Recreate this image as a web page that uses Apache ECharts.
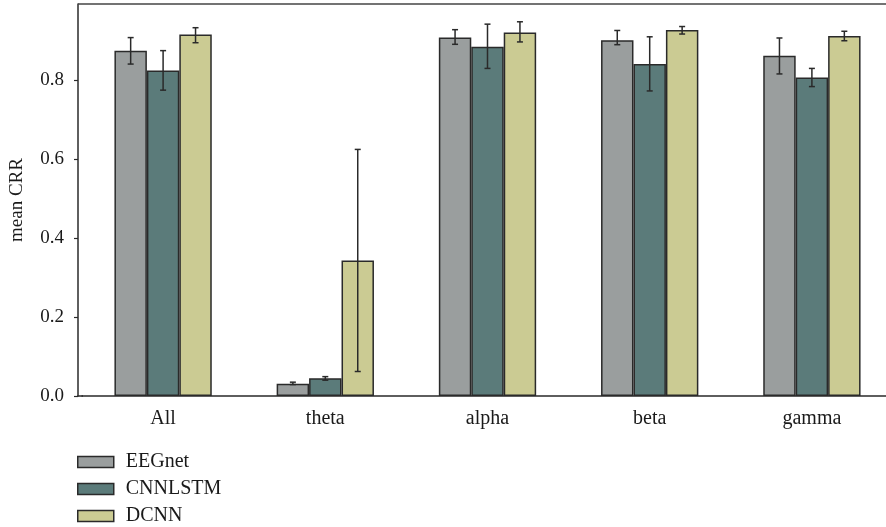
<!DOCTYPE html>
<html>
<head>
<meta charset="utf-8">
<script src="https://cdn.jsdelivr.net/npm/echarts@6/dist/echarts.min.js"></script>
<style>
  html, body { margin: 0; padding: 0; background: #fff; overflow: hidden; }
  /* the plot area continues a little past the right edge of the window */
  #chart { width: 893px; height: 527px; }
</style>
</head>
<body>
<div id="chart"></div>
<script>
// Frequency bands on the x axis
const categories = ['All', 'theta', 'alpha', 'beta', 'gamma'];
const seriesNames = ['EEGnet', 'CNNLSTM', 'DCNN'];

// Mean CRR per model and band
const eegnetMean  = [0.874, 0.031, 0.907, 0.900, 0.861];
const cnnlstmMean = [0.824, 0.045, 0.884, 0.840, 0.806];
const dcnnMean    = [0.915, 0.343, 0.920, 0.926, 0.911];

// Error bar extents (low, high) per model and band
const eegnetLow   = [0.840, 0.029, 0.890, 0.889, 0.815];
const eegnetHigh  = [0.907, 0.035, 0.927, 0.925, 0.906];
const cnnlstmLow  = [0.774, 0.040, 0.829, 0.772, 0.783];
const cnnlstmHigh = [0.874, 0.049, 0.941, 0.909, 0.829];
const dcnnLow     = [0.894, 0.062, 0.896, 0.916, 0.899];
const dcnnHigh    = [0.932, 0.624, 0.947, 0.935, 0.923];

// Y axis tick labels
const yTicks = [0.0, 0.2, 0.4, 0.6, 0.8];

const colors = ['#9a9e9e', '#5b7b7a', '#cbcb93'];
const means = [eegnetMean, cnnlstmMean, dcnnMean];
const lows = [eegnetLow, cnnlstmLow, dcnnLow];
const highs = [eegnetHigh, cnnlstmHigh, dcnnHigh];

const FONT = '"Liberation Serif", "DejaVu Serif", serif';
const INK = '#2a2a2a';
const TEXT = '#1a1a1a';
const BAR_SHARE = 0.6; // 1 - barCategoryGap

const chart = echarts.init(document.getElementById('chart'), null, { renderer: 'canvas' });

const barSeries = seriesNames.map((name, i) => ({
  name: name,
  type: 'bar',
  data: means[i],
  barGap: '0%',
  barCategoryGap: '40%',
  itemStyle: { color: colors[i], borderColor: INK, borderWidth: 1.5 },
  z: 2
}));

const errorSeries = seriesNames.map((name, i) => ({
  name: name + ' error',
  type: 'custom',
  z: 5,
  data: categories.map((c, k) => [k, lows[i][k], highs[i][k]]),
  encode: { x: 0, y: [1, 2] },
  renderItem: function (params, api) {
    const k = api.value(0);
    const lo = api.coord([k, api.value(1)]);
    const hi = api.coord([k, api.value(2)]);
    const band = api.size([1, 0])[0];
    const bw = band * BAR_SHARE / seriesNames.length;
    const x = lo[0] + (i - (seriesNames.length - 1) / 2) * bw;
    const cap = 3;
    const style = { stroke: INK, lineWidth: 1.5, fill: null };
    return {
      type: 'group',
      children: [
        { type: 'line', shape: { x1: x, y1: hi[1], x2: x, y2: lo[1] }, style: style },
        { type: 'line', shape: { x1: x - cap, y1: hi[1], x2: x + cap, y2: hi[1] }, style: style },
        { type: 'line', shape: { x1: x - cap, y1: lo[1], x2: x + cap, y2: lo[1] }, style: style }
      ]
    };
  }
}));

const option = {
  backgroundColor: '#ffffff',
  animation: false,
  textStyle: { fontFamily: FONT },
  grid: { left: 82, top: 4, right: 0, bottom: 131, containLabel: false },
  legend: {
    data: seriesNames,
    orient: 'vertical',
    left: 77,
    top: 452,
    height: 90,
    padding: 0,
    itemWidth: 36,
    itemHeight: 11,
    itemGap: 7,
    icon: 'rect',
    itemStyle: { borderColor: INK, borderWidth: 1.5 },
    textStyle: { fontFamily: FONT, fontSize: 20, color: TEXT, padding: [0, 0, 0, 7] }
  },
  xAxis: {
    type: 'category',
    data: categories,
    axisLine: { lineStyle: { color: INK, width: 1.5 } },
    axisTick: { alignWithLabel: true, length: 5, lineStyle: { color: INK, width: 1.2 } },
    axisLabel: { fontFamily: FONT, fontSize: 20, color: TEXT, margin: 13 },
    splitLine: { show: false }
  },
  yAxis: {
    type: 'value',
    min: 0,
    max: 0.992,
    interval: 0.2,
    offset: 4,
    name: 'mean CRR',
    nameLocation: 'middle',
    nameGap: 51,
    nameTextStyle: { fontFamily: FONT, fontSize: 19, color: TEXT, padding: [0, 0, 0, 0] },
    axisLine: { show: true, lineStyle: { color: INK, width: 1.5 } },
    axisTick: { show: true, length: 4, customValues: yTicks, lineStyle: { color: INK, width: 1.2 } },
    axisLabel: {
      fontFamily: FONT, fontSize: 19, color: TEXT, margin: 14,
      customValues: yTicks,
      formatter: function (v) { return v.toFixed(1); }
    },
    splitLine: { show: false }
  },
  graphic: [
    // frame line along the top of the plot
    { type: 'line', shape: { x1: 78, y1: 4, x2: 893, y2: 4 }, style: { stroke: '#444', lineWidth: 1.5 }, z: 10 },
    // join between the offset y axis and the x axis line
    { type: 'line', shape: { x1: 77.25, y1: 396, x2: 83, y2: 396 }, style: { stroke: INK, lineWidth: 1.5 }, z: 10 }
  ],
  series: barSeries.concat(errorSeries)
};

chart.setOption(option);
</script>
</body>
</html>
